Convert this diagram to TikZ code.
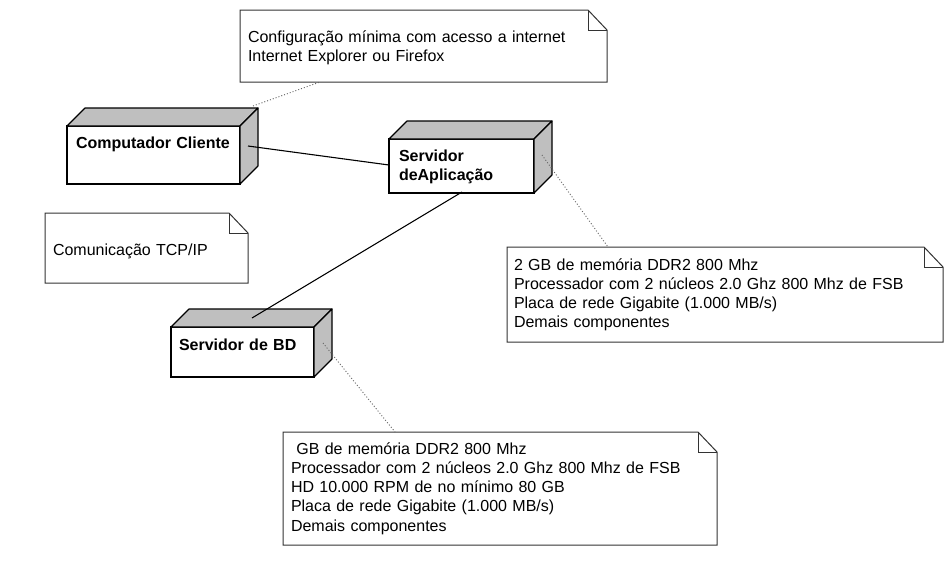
\documentclass[tikz,border=0pt]{standalone}
\usepackage{fontspec}
\setmainfont{Liberation Sans}
\usetikzlibrary{calc}
\newcommand\cubefaces[1]{%
  \filldraw[cubeside] (#1.north west) -- ++(18,-18) -- ($(#1.north east)+(18,-18)$) -- (#1.north east) -- cycle;
  \filldraw[cubeside] (#1.north east) -- ++(18,-18) -- ($(#1.south east)+(18,-18)$) -- (#1.south east) -- cycle;}
\newcommand\notefold[1]{%
  \draw[noteline] (#1.north west) -- ($(#1.north east)+(-19,0)$) -- ($(#1.north east)+(0,20)$) -- (#1.south east) -- (#1.south west) -- cycle;
  \draw[noteline] ($(#1.north east)+(-19,0)$) -- ($(#1.north east)+(-19,20)$) -- ($(#1.north east)+(0,20)$);}
\begin{document}
\begin{tikzpicture}[x=1pt,y=-1pt,
  txt/.style={font=\fontsize{16pt}{19.3pt}\selectfont},
  cube/.style={txt, draw=black, line width=1.1pt, fill=white, inner ysep=0pt, outer sep=0pt,
    anchor=north west, align=left, font=\fontsize{16pt}{19pt}\selectfont\bfseries},
  cubeside/.style={draw=black, line width=1.1pt, fill=black!25, line join=round},
  notebox/.style={txt, draw=none, fill=white, inner ysep=0pt, outer sep=0pt, anchor=north west, align=left},
  noteline/.style={draw=black!80, line width=1pt, line join=miter},
  conn/.style={draw=black, line width=1.1pt},
  anchorline/.style={draw=black!60, line width=0.9pt, dash pattern=on 1pt off 2pt}
]
\fill[white] (0,0) rectangle (951,571);
\useasboundingbox (0,0) rectangle (951,571);

% notes
\node[notebox, text width=351pt, inner xsep=8pt, text height=32pt, text depth=40pt] (n1) at (240,10)
  {\begin{tabular}[t]{@{}l@{}}Configuração mínima com acesso a internet\\Internet Explorer ou Firefox\end{tabular}};
\notefold{n1}
\node[notebox, text width=187pt, inner xsep=8pt, text height=42pt, text depth=28pt] (tcp) at (45,213)
  {Comunicação TCP/IP};
\notefold{tcp}
\node[notebox, text width=422pt, inner xsep=7pt, text height=23pt, text depth=72pt] (n2) at (507,247)
  {\begin{tabular}[t]{@{}l@{}}2 GB de memória DDR2 800 Mhz\\Processador com 2 núcleos 2.0 Ghz 800 Mhz de FSB\\Placa de rede Gigabite (1.000 MB/s)\\Demais componentes\end{tabular}};
\notefold{n2}
\node[notebox, text width=418pt, inner xsep=8pt, text height=22pt, text depth=91pt] (n3) at (283,432)
  {\begin{tabular}[t]{@{}l@{}}\ GB de memória DDR2 800 Mhz\\Processador com 2 núcleos 2.0 Ghz 800 Mhz de FSB\\HD 10.000 RPM de no mínimo 80 GB\\Placa de rede Gigabite (1.000 MB/s)\\Demais componentes\end{tabular}};
\notefold{n3}

% nodes
\node[cube, text width=155pt, inner xsep=9pt, text height=22pt, text depth=36pt] (cc) at (67,126) {Computador Cliente};
\cubefaces{cc}
\node[cube, text width=125pt, inner xsep=10pt, text height=22pt, text depth=32pt] (app) at (389,139)
  {\begin{tabular}[t]{@{}l@{}}Servidor\\deAplicação\end{tabular}};
\cubefaces{app}
\node[cube, text width=127pt, inner xsep=8pt, text height=23pt, text depth=27pt] (bd) at (171,327) {Servidor de BD};
\cubefaces{bd}

% connectors
\draw[conn] ($(cc.north east)+(8,20)$) -- ($(app.north west)+(0,26)$);
\draw[conn] ($(app.south west)+(73,-1)$) -- ($(bd.north west)+(81,-9)$);
\draw[anchorline] ($(cc.north east)+(13,-20)$) -- ($(n1.south west)+(80,0)$);
\draw[anchorline] ($(app.north east)+(8,16)$) -- ($(n2.north west)+(101,0)$);
\draw[anchorline] ($(bd.north east)+(9,16)$) -- ($(n3.north west)+(112,0)$);
\end{tikzpicture}
\end{document}
